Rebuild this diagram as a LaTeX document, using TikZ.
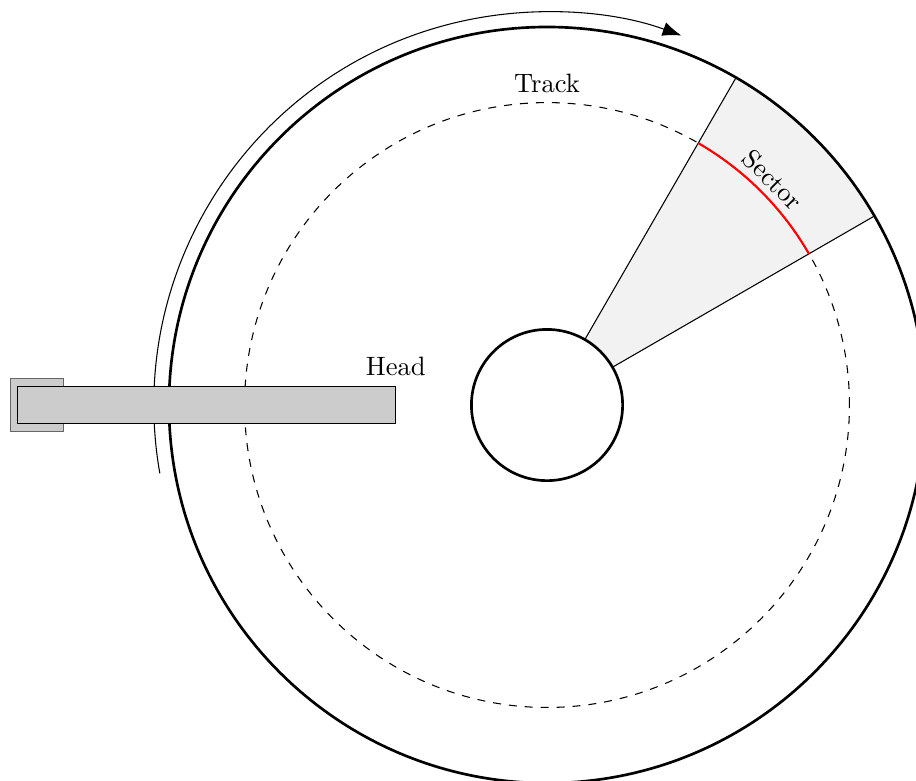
\documentclass[tikz,border=0pt]{standalone}
\usetikzlibrary{arrows.meta,positioning}

\begin{document}
\begin{tikzpicture}[
  platter/.style={line width=1pt},
  trk/.style={dashed},
  sect/.style={fill=gray!10},
  armbox/.style={draw,fill=gray!40,inner sep=0pt},
  spin/.style={-{Latex[length=2.5mm]}}
]
\useasboundingbox (-7.235,-4.96) rectangle (4.88,5.357);
\coordinate (c) at (0,0);

% sector between 30 and 60 degrees
\fill[sect] (30:1) -- (30:5) arc (30:60:5) -- (60:1) arc (60:30:1) -- cycle;
\draw (30:1) -- (30:5);
\draw (60:1) -- (60:5);

% track and platter
\draw[trk] (c) circle (4);
\draw[red,thick] (30:4) arc (30:60:4);
\draw[platter] (c) circle (5);
\draw[platter,fill=white] (c) circle (1);

% direction of rotation
\draw[spin] (190:5.2) arc (190:70:5.2);

% head arm
\node[armbox,draw=black!60,minimum width=0.7cm,minimum height=0.7cm] (pivot) at (-6.75,0) {};
\node[armbox,minimum width=5cm,minimum height=0.5cm,anchor=east] (head) at (-2,0) {};

\node[above=0pt of head.north east] (headlbl) {Head};
\node[above] (tracklbl) at (90:4) {Track};
\node[rotate=-45] (sectorlbl) at (45:4.22) {Sector};
\end{tikzpicture}
\end{document}
